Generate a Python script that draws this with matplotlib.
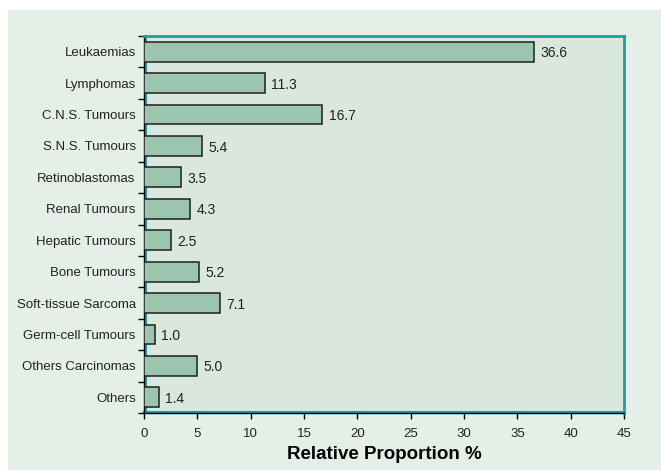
import matplotlib.pyplot as plt
import matplotlib.patches as mpatches
import matplotlib.transforms as mtransforms
import numpy as np

plt.rcParams['font.family'] = ['Liberation Sans', 'DejaVu Sans']

# Data
categories = ["Leukaemias", "Lymphomas", "C.N.S. Tumours", "S.N.S. Tumours",
              "Retinoblastomas", "Renal Tumours", "Hepatic Tumours", "Bone Tumours",
              "Soft-tissue Sarcoma", "Germ-cell Tumours", "Others Carcinomas", "Others"]
values = [36.6, 11.3, 16.7, 5.4, 3.5, 4.3, 2.5, 5.2, 7.1, 1.0, 5.0, 1.4]
x_ticks = [0, 5, 10, 15, 20, 25, 30, 35, 40, 45]

panel_color = '#e4efe7'
axes_color = '#d9e7dd'
bar_color = '#9cc5ad'
teal = '#1a9fa8'

fig = plt.figure(figsize=(6.61, 4.70), dpi=100)
fig.patch.set_facecolor('white')

# light green panel behind the chart
fig.patches.append(mpatches.Rectangle((8 / 661, 0), 1, 1 - 10 / 470,
                                      transform=fig.transFigure,
                                      facecolor=panel_color, edgecolor='none',
                                      zorder=-10))

ax = fig.add_axes([144 / 661, 1 - 413 / 470, 480 / 661, 377 / 470])
ax.set_facecolor(axes_color)

y = np.arange(len(categories))
ax.barh(y, values, height=0.63, color=bar_color, edgecolor='#1e1e1e',
        linewidth=1.1, zorder=3)

for yi, v in zip(y, values):
    ax.text(v + 0.6, yi + 0.05, f"{v:.1f}", va='center', ha='left',
            fontsize=10, color='#222222')

ax.set_xlim(0, 45)
ax.set_ylim(len(categories) - 0.5, -0.5)
ax.set_xticks(x_ticks)
ax.set_xticklabels([str(t) for t in x_ticks], fontsize=9.5, color='#222222')

ax.set_yticks(y)
ax.set_yticklabels(categories, fontsize=9.5, color='#222222')
ax.tick_params(axis='y', which='major', length=0, pad=6)
ax.set_yticks(np.arange(-0.5, len(categories), 1), minor=True)
ax.tick_params(axis='y', which='minor', length=4, width=1, color='black',
               direction='out')
ax.tick_params(axis='x', which='major', length=4, width=1, color='black',
               direction='out', pad=7)

# teal frame on top/right, black axis lines with a teal edge inside on left/bottom
for side in ['top', 'right']:
    ax.spines[side].set_color(teal)
    ax.spines[side].set_linewidth(2)
for side in ['left', 'bottom']:
    ax.spines[side].set_color('black')
    ax.spines[side].set_linewidth(1)

inner_left = mtransforms.offset_copy(ax.transAxes, fig=fig, x=1.5, y=0, units='dots')
inner_bottom = mtransforms.offset_copy(ax.transAxes, fig=fig, x=0, y=1.5, units='dots')
ax.plot([0, 0], [0, 1], color=teal, lw=1.5, transform=inner_left,
        clip_on=False, zorder=2)
ax.plot([0, 1], [0, 0], color=teal, lw=1.5, transform=inner_bottom,
        clip_on=False, zorder=2)

ax.set_xlabel("Relative Proportion %", fontsize=13.5, fontweight='bold',
              labelpad=4)

plt.savefig('out.png', dpi=100, facecolor=fig.get_facecolor())
